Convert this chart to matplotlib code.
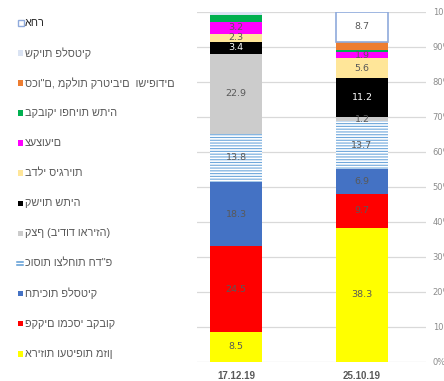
import matplotlib
matplotlib.use('Agg')
from matplotlib import pyplot as plt
import matplotlib.patches as mpatches
from matplotlib.lines import Line2D
from matplotlib.ticker import PercentFormatter
import numpy as np

W, H = 444, 381

dates = ['17.12.19', '25.10.19']

# percentages per category, stacked from the bottom up
food_wrap = [8.5, 38.3]
caps = [24.5, 9.7]
plastic_bits = [18.3, 6.9]
disposable = [13.8, 13.7]
foam = [22.9, 1.2]
straws = [3.4, 11.2]
butts = [2.3, 5.6]
toys = [3.2, 1.9]
bottles = [2.0, 0.6]
cutlery = [0.0, 2.1]
bags = [1.0, 0.1]
other = [0.0, 8.7]

names = [
    'אריזות ועטיפות מזון',
    'פקקים ומכסי בקבוק',
    'חתיכות פלסטיק',
    'כוסות וצלחות חד"פ',
    'קצף (בידוד ואריזה)',
    'קשיות שתיה',
    'בדלי סיגריות',
    'צעצועים',
    'בקבוקי ופחיות שתיה',
    'סכו"ם, מקלות קרטיבים  ושיפודים',
    'שקיות פלסטיק',
    'אחר',
]

# (values, face, edge, hatch, show labels, label colour)
series = [
    (food_wrap, '#FFFF00', 'none', None, True, '#595959'),
    (caps, '#FF0000', 'none', None, True, '#595959'),
    (plastic_bits, '#4472C4', 'none', None, True, '#595959'),
    (disposable, 'white', '#6FA8DC', '------', True, '#595959'),
    (foam, '#CCCCCC', 'none', None, True, '#595959'),
    (straws, '#000000', 'none', None, True, 'white'),
    (butts, '#FFE699', 'none', None, True, '#595959'),
    (toys, '#FF00FF', 'none', None, True, '#595959'),
    (bottles, '#00B050', 'none', None, False, '#595959'),
    (cutlery, '#ED7D31', 'none', None, False, '#595959'),
    (bags, '#DAE3F3', 'none', None, False, '#595959'),
    (other, 'white', '#8FAADC', None, True, '#595959'),
]

plt.rcParams['hatch.linewidth'] = 0.8

fig = plt.figure(figsize=(W / 100, H / 100), dpi=100)
ax = fig.add_axes([197 / W, 1 - 361.7 / H, (425.7 - 197) / W, (361.7 - 11.5) / H])

x = np.arange(len(dates))
bottom = np.zeros(len(dates))
for vals, face, edge, hatch, show, tcol in series:
    vals = np.array(vals)
    lw = 1.2 if (edge != 'none' and hatch is None) else 0
    bars = ax.bar(x, vals, width=0.41, bottom=bottom, color=face,
                  edgecolor=edge, hatch=hatch, linewidth=lw, zorder=2)
    for b, v in zip(bars, vals):
        if v <= 0:
            b.set_visible(False)
    if show:
        labels = ['%.1f' % v if v > 0 else '' for v in vals]
        ax.bar_label(bars, labels=labels, label_type='center', fontsize=6.8,
                     color=tcol, family=['Liberation Sans Narrow', 'DejaVu Sans'])
    bottom += vals

ax.set_xlim(-0.31, 1.506)
ax.set_ylim(0, 100)
ax.set_yticks(range(0, 101, 10))
ax.yaxis.set_major_formatter(PercentFormatter(100, decimals=0))
ax.yaxis.tick_right()
ax.tick_params(axis='y', length=0, pad=5, labelsize=6, labelcolor='#8C8C8C')
ax.set_xticks(x)
ax.set_xticklabels(dates, fontsize=7, fontweight='bold', color='#595959',
                   family='Liberation Sans')
ax.tick_params(axis='x', length=0, pad=7)
ax.grid(axis='y', color='#D9D9D9', linewidth=0.9, zorder=0)
ax.set_axisbelow(True)
for sp in ax.spines.values():
    sp.set_visible(False)

# legend on the left, top entry is the last stacked series
for i, (name, s) in enumerate(zip(names[::-1], series[::-1])):
    vals, face, edge, hatch, show, tcol = s
    yc = 22.7 + i * 30.1
    yf = 1 - yc / H
    if hatch:
        for dy in (-1.6, 1.6):
            fig.add_artist(Line2D([17 / W, 23 / W], [1 - (yc + dy) / H] * 2,
                                  color='#5B9BD5', linewidth=1.1,
                                  transform=fig.transFigure))
    else:
        size = 6 if edge != 'none' else 5.5
        fig.add_artist(mpatches.Rectangle(
            (17.5 / W, yf - size / 2 / H), size / W, size / H,
            facecolor=face, edgecolor=edge if edge != 'none' else face,
            linewidth=1.0 if edge != 'none' else 0, transform=fig.transFigure))
    colour = '#262626' if name == 'אחר' else '#595959'
    fig.text(25 / W, yf, name, ha='left', va='center', fontsize=7.8,
             color=colour, family=['Liberation Sans', 'DejaVu Sans'])

fig.savefig('out.png', dpi=100)
